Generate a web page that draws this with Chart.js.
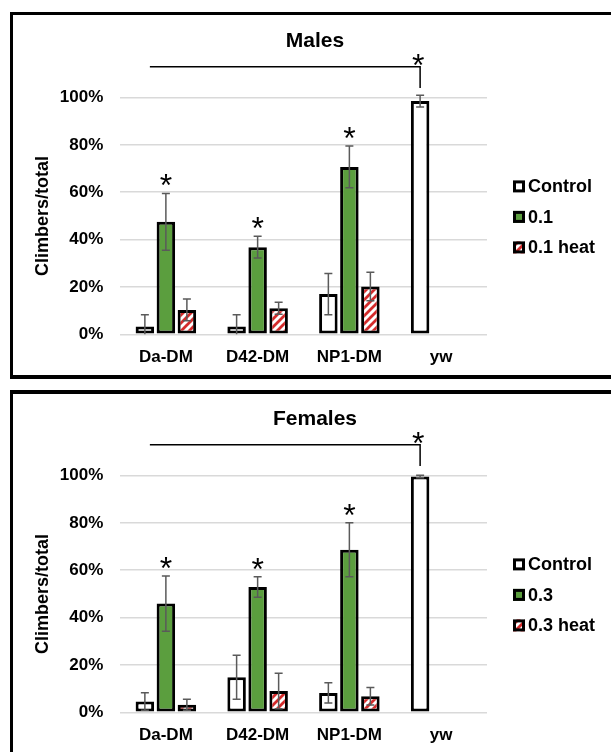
<!DOCTYPE html>
<html>
<head>
<meta charset="utf-8">
<script src="https://cdn.jsdelivr.net/npm/chart.js@4.4.1/dist/chart.umd.min.js"></script>
<style>
  html, body { margin: 0; padding: 0; background: #fff; overflow: hidden; }
  #page { position: relative; width: 611px; height: 752px; overflow: hidden; }
  .chart { position: absolute; left: 0; width: 611px; height: 376px; }
  .frame { position: absolute; left: 10px; width: 640px; border: 3px solid #000; box-sizing: border-box; pointer-events: none; }
</style>
</head>
<body>
<div id="page">
  <div class="chart" style="top:0"><canvas id="males" width="611" height="376"></canvas></div>
  <div class="chart" style="top:378px"><canvas id="females" width="611" height="376"></canvas></div>
  <div class="frame" style="top:12px;height:367px;border-bottom-width:4px"></div>
  <div class="frame" style="top:390px;height:400px;border-top-width:4px"></div>
</div>
<script>
const categories = ['Da-DM', 'D42-DM', 'NP1-DM', 'yw'];

// Males
const maleLabels = ['Control', '0.1', '0.1 heat'];
const maleControl = [3.3, 3.3, 17, 98.5];
const maleControlErr = [5, 5, 8.7, 2.5];
const maleDose = [47.5, 36.8, 70.7, null];
const maleDoseErr = [12, 4.6, 8.8, null];
const maleHeat = [10.3, 11, 20.2, null];
const maleHeatErr = [4.6, 2.5, 6, null];

// Females
const femaleLabels = ['Control', '0.3', '0.3 heat'];
const femaleControl = [4.6, 14.8, 8.2, 99.6];
const femaleControlErr = [3.7, 9.3, 4.3, 0.5];
const femaleDose = [45.9, 52.9, 68.6, null];
const femaleDoseErr = [11.7, 4.3, 11.4, null];
const femaleHeat = [3.2, 9, 6.8, null];
const femaleHeatErr = [2.3, 7.5, 3.7, null];

// significance marks on the treated bars, bracket from first group to yw control
const doseStars = [true, true, true, false];

const FONT = '"Liberation Sans", Arial, Helvetica, sans-serif';
const GREEN = '#5b9e3e';
const RED = '#d42b2b';

function stripes() {
  const c = document.createElement('canvas');
  c.width = 8; c.height = 8;
  const g = c.getContext('2d');
  g.fillStyle = '#fff';
  g.fillRect(0, 0, 8, 8);
  g.strokeStyle = RED;
  g.lineWidth = 2.8;
  g.beginPath();
  g.moveTo(-2, 10); g.lineTo(10, -2);
  g.moveTo(-2, 2); g.lineTo(2, -2);
  g.moveTo(6, 10); g.lineTo(10, 6);
  g.stroke();
  return g.createPattern(c, 'repeat');
}

const extras = {
  id: 'extras',
  afterDatasetsDraw(chart, args, opts) {
    const ctx = chart.ctx;
    const y = chart.scales.y;
    const area = chart.chartArea;
    ctx.save();

    // panel title, centred on the framed panel
    ctx.fillStyle = '#000';
    ctx.font = 'bold 21px ' + FONT;
    ctx.textAlign = 'center';
    ctx.textBaseline = 'middle';
    ctx.fillText(opts.title, chart.width / 2 + 9.5, 41);

    // error bars
    ctx.strokeStyle = '#5a5a5a';
    ctx.lineWidth = 1.5;
    chart.data.datasets.forEach((ds, di) => {
      const meta = chart.getDatasetMeta(di);
      ds.data.forEach((v, i) => {
        if (v == null) return;
        const e = ds.errors[i];
        const x = meta.data[i].x;
        const top = y.getPixelForValue(v + e);
        const bot = y.getPixelForValue(Math.max(0, v - e));
        ctx.beginPath();
        ctx.moveTo(x, top); ctx.lineTo(x, bot);
        ctx.moveTo(x - 4, top); ctx.lineTo(x + 4, top);
        if (v - e > 0) { ctx.moveTo(x - 4, bot); ctx.lineTo(x + 4, bot); }
        ctx.stroke();
      });
    });

    // asterisks
    ctx.fillStyle = '#000';
    ctx.font = '32px ' + FONT;
    ctx.textAlign = 'center';
    ctx.textBaseline = 'alphabetic';
    chart.data.datasets.forEach((ds, di) => {
      if (!ds.stars) return;
      const meta = chart.getDatasetMeta(di);
      ds.stars.forEach((s, i) => {
        if (!s) return;
        const top = y.getPixelForValue(ds.data[i] + ds.errors[i]);
        ctx.fillText('*', meta.data[i].x, top - 15.5 + 18.5);
      });
    });

    // bracket to yw
    const ctl = chart.getDatasetMeta(0).data;
    const x1 = ctl[0].x + 5;
    const x2 = ctl[3].x;
    const yb = y.getPixelForValue(113);
    ctx.strokeStyle = '#000';
    ctx.lineWidth = 1.5;
    ctx.beginPath();
    ctx.moveTo(x1, yb); ctx.lineTo(x2, yb); ctx.lineTo(x2, y.getPixelForValue(104));
    ctx.stroke();
    ctx.fillText('*', x2 - 2, y.getPixelForValue(117) + 18.5);

    // legend
    const cy = (area.top + area.bottom) / 2;
    const lx = area.right + 26;
    ctx.font = 'bold 18px ' + FONT;
    ctx.textAlign = 'left';
    ctx.textBaseline = 'middle';
    chart.data.datasets.forEach((ds, i) => {
      const yc = cy + 1 + (i - 1) * 30.5;
      ctx.fillStyle = ds.backgroundColor;
      ctx.fillRect(lx, yc - 6, 12, 12);
      ctx.strokeStyle = '#000';
      ctx.lineWidth = 3;
      ctx.strokeRect(lx + 1.5, yc - 4.5, 9, 9);
      ctx.fillStyle = '#000';
      ctx.fillText(ds.label, lx + 15, yc + 1);
    });
    ctx.restore();
  }
};

function makeChart(id, title, labels, values, errors) {
  const fills = ['#fff', GREEN, stripes()];
  const datasets = labels.map((label, i) => ({
    label: label,
    data: values[i],
    errors: errors[i],
    stars: i === 1 ? doseStars : null,
    backgroundColor: fills[i],
    borderColor: '#000',
    borderWidth: 3,
    borderSkipped: false,
    barPercentage: 0.88,
    categoryPercentage: 0.687
  }));
  const tickFont = { family: FONT, size: 17, weight: 'bold' };
  return new Chart(document.getElementById(id), {
    type: 'bar',
    data: { labels: categories, datasets: datasets },
    plugins: [extras],
    options: {
      animation: false,
      responsive: false,
      layout: { padding: { left: 32, right: 124, top: 97.5, bottom: 8 } },
      plugins: {
        legend: { display: false },
        tooltip: { enabled: false },
        title: { display: false },
        extras: { title: title }
      },
      scales: {
        x: {
          grid: { display: false, drawTicks: false },
          border: { display: false },
          ticks: { color: '#000', font: tickFont, padding: 13.3 },
          afterFit: s => { s.height = 33.7; }
        },
        y: {
          min: 0,
          max: 100,
          ticks: { stepSize: 20, callback: v => v + '%', color: '#000', font: tickFont, padding: 16.7 },
          grid: { color: '#d9d9d9', lineWidth: 1.5, drawTicks: false },
          border: { display: false },
          title: {
            display: true,
            text: 'Climbers/total',
            color: '#000',
            font: { family: FONT, size: 18, weight: 'bold' },
            padding: { top: 0, bottom: 6 }
          },
          afterFit: s => { s.width = 88; }
        }
      }
    }
  });
}

makeChart('males', 'Males', maleLabels,
  [maleControl, maleDose, maleHeat],
  [maleControlErr, maleDoseErr, maleHeatErr]);
makeChart('females', 'Females', femaleLabels,
  [femaleControl, femaleDose, femaleHeat],
  [femaleControlErr, femaleDoseErr, femaleHeatErr]);
</script>
</body>
</html>
